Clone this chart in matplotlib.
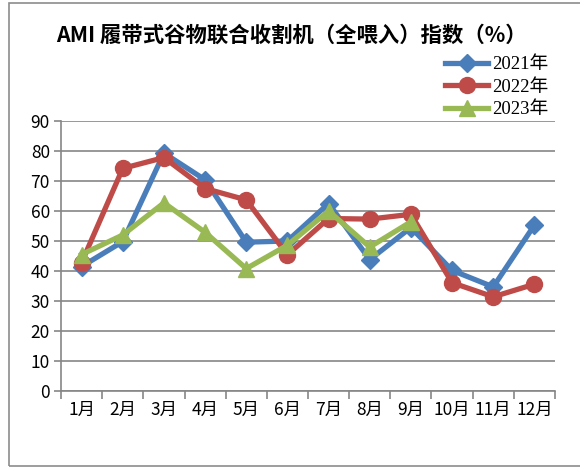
import matplotlib
matplotlib.use("Agg")
import matplotlib.pyplot as plt
from matplotlib.patches import Rectangle
from matplotlib.lines import Line2D

plt.rcParams['font.family'] = ['Noto Sans CJK SC', 'DejaVu Sans']

months = ['1月', '2月', '3月', '4月', '5月', '6月', '7月', '8月', '9月', '10月', '11月', '12月']
v2021 = [41.5, 49.8, 79.3, 70.4, 49.6, 50.0, 62.5, 43.8, 54.5, 40.2, 34.7, 55.3]
v2022 = [42.8, 74.2, 77.8, 67.5, 63.7, 45.4, 57.5, 57.3, 58.9, 36.1, 31.4, 35.6]
v2023 = [45.5, 52.0, 62.7, 52.9, 40.8, 48.6, 60.0, 48.0, 56.4]
series_names = ['2021年', '2022年', '2023年']
colors = ['#4A7EBB', '#BE4B48', '#98B954']
markers = ['D', 'o', '^']
msizes = [9, 11.5, 11.5]
yticks = [0, 10, 20, 30, 40, 50, 60, 70, 80, 90]

fig = plt.figure(figsize=(5.8, 4.69), dpi=100)
fig.patches.append(Rectangle((9/580, 1-466/469), 1.0, (466-3)/469, transform=fig.transFigure,
                             fill=False, edgecolor='#8c8c8c', linewidth=1.2))
ax = fig.add_axes([61/580, 1-391/469, (555-61)/580, (391-121)/469])

x = list(range(len(months)))
for vals, name, c, m, ms in zip([v2021, v2022, v2023], series_names, colors, markers, msizes):
    ax.plot(x[:len(vals)], vals, color=c, linewidth=3.8, marker=m, markersize=ms,
            markeredgecolor=c, label=name, zorder=3)

ax.set_xlim(-0.5, len(months) - 0.5)
ax.set_ylim(0, 90)
ax.set_yticks(yticks)
ax.set_yticklabels([str(t) for t in yticks], fontsize=12.5)
ax.set_xticks(x)
ax.set_xticklabels(months, fontsize=12.5)
ax.set_xticks([i - 0.5 for i in range(len(months) + 1)], minor=True)
ax.tick_params(axis='x', which='major', length=0, pad=7)
ax.tick_params(axis='x', which='minor', length=6, color='#868686', width=1.2)
ax.tick_params(axis='y', length=5, color='#868686', width=1.2, pad=3)
ax.yaxis.grid(True, color='#868686', linewidth=1.2)
ax.set_axisbelow(True)
for s in ['top', 'right']:
    ax.spines[s].set_visible(False)
for s in ['left', 'bottom']:
    ax.spines[s].set_color('#868686')
    ax.spines[s].set_linewidth(1.2)

fig.text(56/580, 1-35/469, 'AMI 履带式谷物联合收割机（全喂入）指数（%）', fontsize=15.4,
         fontweight='bold', va='center', ha='left')

handles = [Line2D([], [], color=c, linewidth=3.8, marker=m, markersize=ms, markeredgecolor=c)
           for c, m, ms in zip(colors, markers, msizes)]
leg = fig.legend(handles, series_names, loc='upper left', bbox_to_anchor=(436/580, 1-47/469),
                 frameon=False, handlelength=2.3, handletextpad=0.2, labelspacing=0.28,
                 borderpad=0, prop={'family': ['Liberation Serif', 'Noto Sans CJK SC'], 'size': 13.5})

fig.savefig('out.png', dpi=100)
